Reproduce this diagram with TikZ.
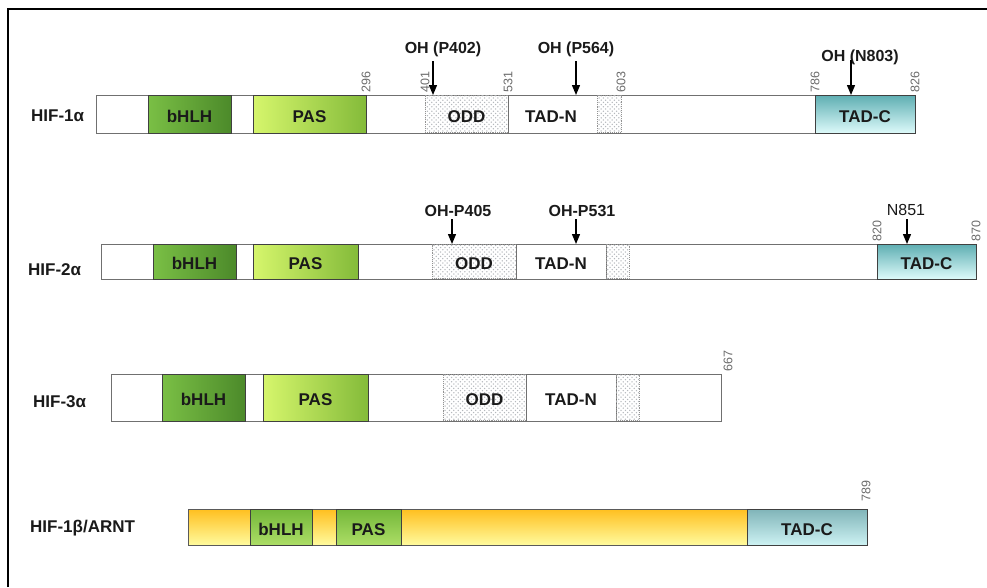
\documentclass[tikz,border=0pt]{standalone}
\usepackage{fontspec}
\setmainfont{Liberation Sans}
\usetikzlibrary{patterns,arrows.meta}
\pgfdeclarepatternformonly{oddots}{\pgfqpoint{-1pt}{-1pt}}{\pgfqpoint{5pt}{5pt}}{\pgfqpoint{4.4pt}{4.4pt}}{%
  \pgfpathcircle{\pgfqpoint{0.6pt}{0.6pt}}{0.75pt}%
  \pgfpathcircle{\pgfqpoint{2.8pt}{2.8pt}}{0.75pt}%
  \pgfusepath{fill}}
\definecolor{bhA}{HTML}{7ABF45}
\definecolor{bhB}{HTML}{4C8A2A}
\definecolor{paA}{HTML}{D6F66C}
\definecolor{paB}{HTML}{84BB3A}
\definecolor{tcA}{HTML}{5EAEB2}
\definecolor{tcB}{HTML}{DDFAFA}
\definecolor{taA}{HTML}{80B4B8}
\definecolor{taB}{HTML}{CDF2F3}
\definecolor{yeA}{HTML}{FFBF1F}
\definecolor{yeB}{HTML}{FFFB9E}
\definecolor{agA}{HTML}{74B83A}
\definecolor{agB}{HTML}{ACDD66}
\definecolor{edge}{HTML}{707070}
\definecolor{txt}{HTML}{1A1A1A}
\definecolor{dotc}{HTML}{B4B8BC}
\begin{document}
\begin{tikzpicture}[x=1pt,y=-1pt,
  lbl/.style={font=\bfseries\fontsize{17}{17}\selectfont, text=txt, inner sep=0, anchor=west},
  blk/.style={draw=#1, line width=0.8pt, inner sep=0, outer sep=0, anchor=north west,
     font=\bfseries\fontsize{17}{17}\selectfont, text=txt, text depth=0pt, text height=16pt},
  blk/.default={black!75},
  outerbox/.style={draw=edge, line width=1pt, fill=white, inner sep=0, outer sep=0, anchor=north west},
  bhlh/.style={blk, left color=bhA, right color=bhB},
  pas/.style={blk, left color=paA, right color=paB},
  tadc/.style={blk, top color=tcA, bottom color=tcB},
  tadcb/.style={blk, top color=taA, bottom color=taB},
  yel/.style={draw=edge!80!black, line width=1pt, inner sep=0, outer sep=0, anchor=north west, top color=yeA, bottom color=yeB},
  agr/.style={blk, top color=agA, bottom color=agB},
  odd/.style={inner sep=0, outer sep=0, anchor=north west, draw=gray!85, densely dotted, line width=0.9pt,
     pattern=oddots, pattern color=dotc, font=\bfseries\fontsize{17}{17}\selectfont, text=txt,
     text depth=0pt, text height=16pt},
  plain/.style={font=\bfseries\fontsize{17}{17}\selectfont, text=txt, inner sep=0},
  num/.style={font=\fontsize{12.5}{12.5}\selectfont, text=gray!85!black, rotate=90, anchor=west, inner sep=0},
  site/.style={font=\bfseries\fontsize{16}{16}\selectfont, text=txt, inner sep=0},
  arr/.style={line width=1.3pt, -{Triangle[width=8pt,length=10pt]}}
]
\useasboundingbox (0,0) rectangle (987,587);
\fill[white] (0,0) rectangle (987,587);
% frame
\draw[line width=2.5pt] (8,587) -- (8,9) -- (987,9);

% ---------------- HIF-1alpha ----------------
\node[lbl] (n1) at (31,116) {HIF-1α};
\node[outerbox, minimum width=819pt, minimum height=38pt] (r1) at (96,95) {};
\node[bhlh, minimum width=83pt, minimum height=38pt] (r1b) at (148,95) {bHLH};
\node[pas, minimum width=113pt, minimum height=38pt] (r1p) at (253,95) {PAS};
\node[odd, minimum width=83pt, minimum height=37pt] (r1o) at (425,95.5) {ODD};
\draw[edge, line width=0.8pt] (508,95) -- (508,133);
\node[plain] (r1n) at (551,117) {TAD-N};
\node[odd, minimum width=24pt, minimum height=37pt] (r1d) at (597,95.5) {};
\node[tadc, minimum width=100pt, minimum height=38pt] (r1c) at (815,95) {TAD-C};
\node[num] at (366,93) {296};
\node[num] at (425,93) {401};
\node[num] at (508,93) {531};
\node[num] at (621,93) {603};
\node[num] at (815,93) {786};
\node[num] at (915,93) {826};
\node[site] (s1) at (443,49) {OH (P402)};
\node[site] (s2) at (576,49) {OH (P564)};
\node[site] (s3) at (860,57) {OH (N803)};
\coordinate (s1a) at (433,61); \coordinate (s1b) at (433,95);
\coordinate (s2a) at (576,61); \coordinate (s2b) at (576,95);
\coordinate (s3a) at (851,60); \coordinate (s3b) at (851,95);
\draw[arr] (s1a) -- (s1b);
\draw[arr] (s2a) -- (s2b);
\draw[arr] (s3a) -- (s3b);

% ---------------- HIF-2alpha ----------------
\node[lbl] (n2) at (28,270) {HIF-2α};
\node[outerbox, minimum width=875pt, minimum height=35pt] (r2) at (101,244) {};
\node[bhlh, minimum width=83pt, minimum height=35pt] (r2b) at (153,244) {bHLH};
\node[pas, minimum width=105pt, minimum height=35pt] (r2p) at (253,244) {PAS};
\node[odd, minimum width=84pt, minimum height=34pt] (r2o) at (432,244.5) {ODD};
\node[blk=edge, minimum width=90pt, minimum height=35pt] (r2n) at (516,244) {TAD-N};
\node[odd, minimum width=23pt, minimum height=34pt] (r2d) at (606,244.5) {};
\node[tadc, minimum width=99pt, minimum height=35pt] (r2c) at (877,244) {TAD-C};
\node[num] at (877,242) {820};
\node[num] at (976,242) {870};
\node[site] (s4) at (458,211) {OH-P405};
\node[site] (s5) at (582,211) {OH-P531};
\node[font=\fontsize{16}{16}\selectfont, text=txt, inner sep=0] (s6) at (906,210) {N851};
\coordinate (s4a) at (452,219); \coordinate (s4b) at (452,244);
\coordinate (s5a) at (576,219); \coordinate (s5b) at (576,244);
\coordinate (s6a) at (907,219); \coordinate (s6b) at (907,244);
\draw[arr] (s4a) -- (s4b);
\draw[arr] (s5a) -- (s5b);
\draw[arr] (s6a) -- (s6b);

% ---------------- HIF-3alpha ----------------
\node[lbl] (n3) at (33,402) {HIF-3α};
\node[outerbox, minimum width=610pt, minimum height=47pt] (r3) at (111,374) {};
\node[bhlh, minimum width=83pt, minimum height=47pt] (r3b) at (162,374) {bHLH};
\node[pas, minimum width=105pt, minimum height=47pt] (r3p) at (263,374) {PAS};
\node[odd, minimum width=83pt, minimum height=46pt] (r3o) at (443,374.5) {ODD};
\node[blk=edge, minimum width=90pt, minimum height=47pt] (r3n) at (526,374) {TAD-N};
\node[odd, minimum width=23pt, minimum height=46pt] (r3d) at (616,374.5) {};
\node[num] at (728,372) {667};

% ---------------- HIF-1beta/ARNT ----------------
\node[lbl] (n4) at (30,528) {HIF-1β/ARNT};
\node[yel, minimum width=679pt, minimum height=36pt] (r4) at (188,509) {};
\node[agr, minimum width=62pt, minimum height=36pt] (r4b) at (250,509) {bHLH};
\node[agr, minimum width=65pt, minimum height=36pt] (r4p) at (336,509) {PAS};
\node[tadcb, minimum width=120pt, minimum height=36pt] (r4c) at (747,509) {TAD-C};
\node[num] at (866,502) {789};
\end{tikzpicture}
\end{document}
